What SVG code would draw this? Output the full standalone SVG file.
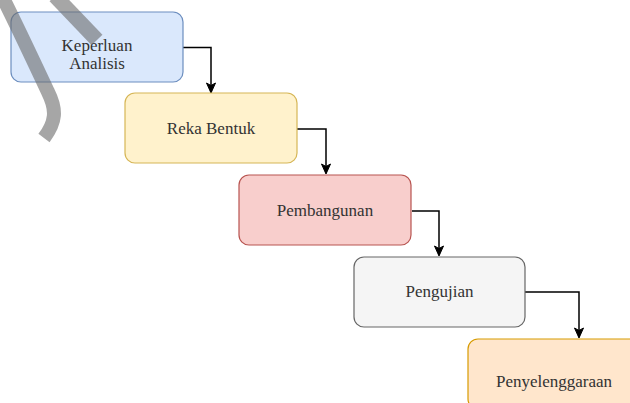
<svg xmlns="http://www.w3.org/2000/svg" width="630" height="403" viewBox="0 0 630 403">
<defs>
<style>
.node rect{stroke-width:1.2}
text.lbl{font-family:"Liberation Serif","DejaVu Serif","Times New Roman",serif;font-size:17px;fill:#333;text-anchor:middle}
.edge{fill:none;stroke:#000;stroke-width:1.5;marker-end:url(#arr)}
.wm{fill:none;stroke:#6a6a6a;stroke-opacity:0.6;stroke-linecap:butt;stroke-linejoin:round}
</style>
<marker id="arr" markerUnits="userSpaceOnUse" markerWidth="12" markerHeight="12" viewBox="0 0 12 12" refX="10" refY="6" orient="auto">
<path d="M1,1.5 L11,6 L1,10.5 L3.5,6 Z" fill="#000" stroke="#000" stroke-width="1"/>
</marker>
</defs>
<rect width="630" height="403" fill="#fff"/>
<g id="connectors">
<path class="edge" d="M183,47.5 H211 V92"/>
<path class="edge" d="M297,129 H326 V173"/>
<path class="edge" d="M412,211 H439 V255"/>
<path class="edge" d="M525,292 H579 V337"/>
</g>
<g id="n1" class="node">
<rect x="11" y="12" width="172" height="70" rx="10" fill="#dae8fc" stroke="#6c8ebf"/>
<text class="lbl" x="97" y="51" font-family="Liberation Serif, serif" font-size="17">Keperluan</text>
<text class="lbl" x="97" y="69" font-family="Liberation Serif, serif" font-size="17">Analisis</text>
</g>
<g id="n2" class="node">
<rect x="125" y="93" width="172" height="70" rx="10" fill="#fff2cc" stroke="#d6b656"/>
<text class="lbl" x="211" y="134" font-family="Liberation Serif, serif" font-size="17">Reka Bentuk</text>
</g>
<g id="n3" class="node">
<rect x="239" y="175" width="172" height="70" rx="10" fill="#f8cecc" stroke="#b85450"/>
<text class="lbl" x="325" y="215.5" font-family="Liberation Serif, serif" font-size="17">Pembangunan</text>
</g>
<g id="n4" class="node">
<rect x="354" y="257" width="171" height="70" rx="10" fill="#f5f5f5" stroke="#666666"/>
<text class="lbl" x="439.5" y="297" font-family="Liberation Serif, serif" font-size="17">Pengujian</text>
</g>
<g id="n5" class="node">
<rect x="468" y="339" width="172" height="70" rx="10" fill="#ffe6cc" stroke="#d79b00"/>
<text class="lbl" x="554" y="387" font-family="Liberation Serif, serif" font-size="17">Penyelenggaraan</text>
</g>
<g id="watermark">
<path class="wm" stroke-width="15" d="M55,-4 L97,40"/>
<path class="wm" stroke-width="14" d="M2,-4 C18,28 34,62 48,92 C57,110 56,122 44,138"/>
</g>
</svg>
